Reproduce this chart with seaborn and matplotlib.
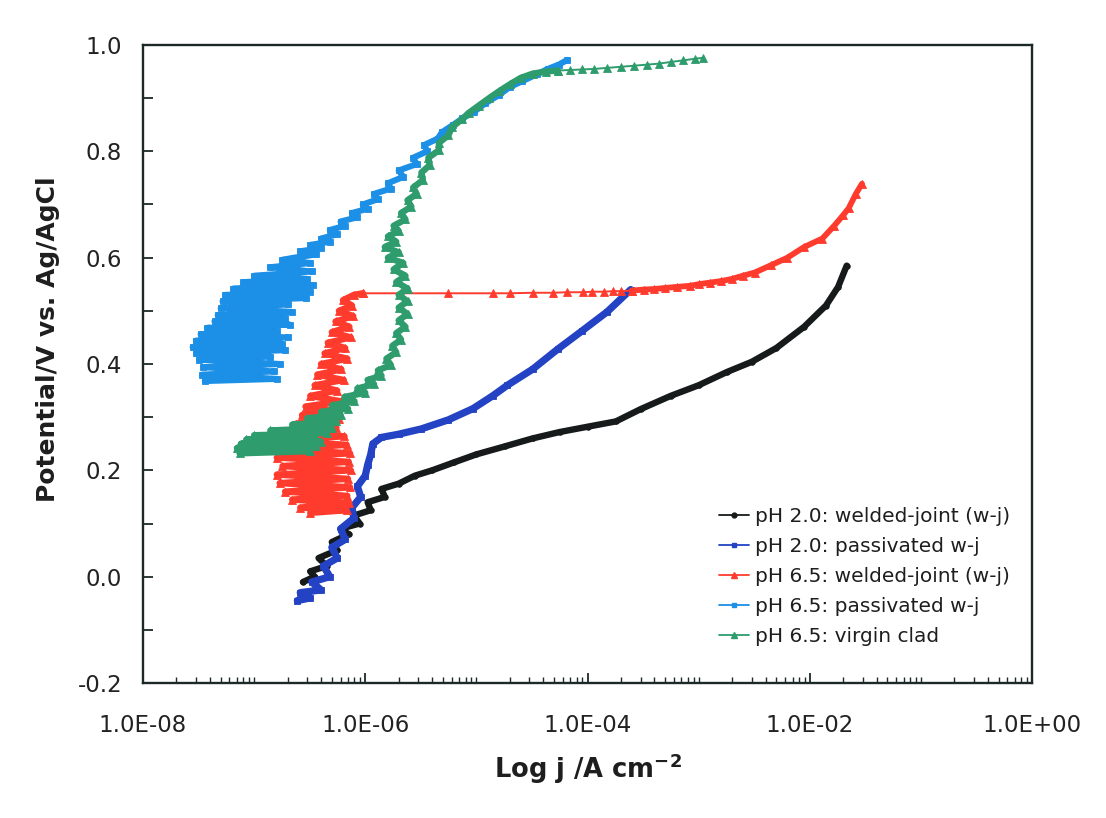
import numpy as np
import pandas as pd
import matplotlib
matplotlib.use("Agg")
import matplotlib.pyplot as plt
from matplotlib.lines import Line2D
from matplotlib.ticker import FixedLocator, LogLocator, NullFormatter
import seaborn as sns

# ---------------- data ----------------
series_labels = ["pH 2.0: welded-joint (w-j)", "pH 2.0: passivated w-j",
                 "pH 6.5: welded-joint (w-j)", "pH 6.5: passivated w-j",
                 "pH 6.5: virgin clad"]

# pH 2.0 welded joint (black)
bk_j = [2.75e-7, 3.5e-7, 3.2e-7, 4.5e-7, 3.8e-7, 5.6e-7, 5.0e-7, 7.1e-7, 6.0e-7, 8.9e-7,
        7.9e-7, 1.12e-6, 1.05e-6, 1.5e-6, 1.4e-6, 2.0e-6, 2.8e-6, 4.0e-6, 6.3e-6, 1.0e-5,
        1.8e-5, 3.2e-5, 5.6e-5, 1.0e-4, 1.8e-4, 3.0e-4, 5.6e-4, 1.0e-3, 1.8e-3, 3.0e-3,
        5.0e-3, 8.9e-3, 1.4e-2, 1.8e-2, 2.15e-2]
bk_E = [-0.010, 0.000, 0.010, 0.020, 0.035, 0.050, 0.065, 0.080, 0.090, 0.100,
        0.115, 0.125, 0.140, 0.150, 0.165, 0.175, 0.190, 0.200, 0.215, 0.230,
        0.245, 0.260, 0.272, 0.282, 0.292, 0.315, 0.340, 0.360, 0.385, 0.404,
        0.430, 0.470, 0.510, 0.545, 0.585]

# pH 2.0 passivated w-j (blue)
bl_j = [2.45e-7, 3.2e-7, 2.6e-7, 4.0e-7, 3.3e-7, 4.8e-7, 4.2e-7, 5.6e-7, 5.0e-7, 6.6e-7,
        6.0e-7, 7.9e-7, 7.6e-7, 9.1e-7, 8.5e-7, 1.0e-6, 1.05e-6, 1.12e-6, 1.17e-6, 1.4e-6,
        2.0e-6, 3.2e-6, 5.6e-6, 9.3e-6, 1.4e-5, 1.9e-5, 3.2e-5, 5.4e-5, 8.9e-5, 1.5e-4,
        2.45e-4]
bl_E = [-0.045, -0.040, -0.030, -0.025, -0.010, 0.000, 0.020, 0.035, 0.055, 0.070,
        0.090, 0.110, 0.130, 0.150, 0.170, 0.190, 0.210, 0.230, 0.250, 0.262,
        0.268, 0.278, 0.295, 0.316, 0.340, 0.360, 0.390, 0.428, 0.462, 0.498,
        0.540]

# pH 6.5 welded joint (red)
rd_j = [3.2e-7, 6.8e-7, 2.6e-7, 7.2e-7, 2.2e-7, 6.9e-7, 1.9e-7, 7.3e-7, 1.7e-7, 7.0e-7,
        1.6e-7, 7.4e-7, 1.8e-7, 7.1e-7, 1.6e-7, 7.3e-7, 1.9e-7, 6.8e-7, 1.55e-7, 6.5e-7,
        2.0e-7, 5.5e-7, 2.4e-7, 5.8e-7, 2.7e-7, 5.2e-7, 2.9e-7, 6.0e-7, 3.2e-7, 5.6e-7,
        3.5e-7, 6.4e-7, 3.7e-7, 6.1e-7, 4.0e-7, 6.9e-7, 4.3e-7, 6.6e-7, 4.6e-7, 7.4e-7,
        5.0e-7, 7.2e-7, 5.4e-7, 7.8e-7, 5.8e-7, 7.6e-7, 6.3e-7, 7.9e-7,
        9.5e-7, 5.5e-6, 1.4e-5, 2.0e-5, 3.2e-5, 4.9e-5, 6.6e-5, 9.1e-5, 1.1e-4, 1.4e-4,
        1.7e-4, 2.0e-4, 2.5e-4, 3.2e-4, 4.0e-4, 5.0e-4, 6.4e-4, 8.3e-4, 1.0e-3, 1.26e-3,
        1.6e-3, 2.0e-3, 2.5e-3, 3.2e-3, 4.5e-3, 6.3e-3, 8.9e-3, 1.3e-2, 1.66e-2, 2.0e-2,
        2.24e-2, 2.6e-2, 2.95e-2]
rd_E = [0.120, 0.125, 0.130, 0.138, 0.145, 0.152, 0.160, 0.168, 0.176, 0.184,
        0.192, 0.200, 0.208, 0.216, 0.224, 0.232, 0.240, 0.248, 0.256, 0.264,
        0.272, 0.280, 0.288, 0.296, 0.304, 0.312, 0.320, 0.330, 0.340, 0.350,
        0.360, 0.370, 0.380, 0.390, 0.400, 0.410, 0.420, 0.430, 0.440, 0.450,
        0.460, 0.470, 0.480, 0.490, 0.500, 0.510, 0.520, 0.530,
        0.533, 0.533, 0.533, 0.533, 0.534, 0.534, 0.535, 0.535, 0.536, 0.536,
        0.537, 0.537, 0.538, 0.540, 0.541, 0.543, 0.545, 0.547, 0.550, 0.553,
        0.556, 0.560, 0.566, 0.572, 0.586, 0.600, 0.620, 0.636, 0.660, 0.680,
        0.693, 0.720, 0.739]

# pH 6.5 passivated w-j (light blue)
lb_j = [3.6e-8, 1.6e-7, 3.4e-8, 1.5e-7, 3.5e-8, 1.7e-7, 3.2e-8, 1.4e-7, 3.0e-8, 1.9e-7,
        2.8e-8, 1.8e-7, 3.0e-8, 2.0e-7, 3.3e-8, 1.6e-7, 3.8e-8, 2.1e-7, 4.4e-8, 1.9e-7,
        4.7e-8, 2.2e-7, 5.0e-8, 2.0e-7, 5.2e-8, 2.9e-7, 5.5e-8, 3.2e-7, 6.5e-8, 3.4e-7,
        8.0e-8, 3.0e-7, 1.0e-7, 3.3e-7, 1.4e-7, 3.2e-7, 1.8e-7,
        2.3e-7, 3.6e-7, 2.6e-7, 4.0e-7, 3.2e-7, 4.8e-7, 4.0e-7, 5.6e-7, 4.8e-7, 6.6e-7,
        6.0e-7, 8.5e-7, 7.6e-7, 1.05e-6, 9.5e-7, 1.3e-6, 1.2e-6, 1.7e-6, 1.6e-6, 2.2e-6,
        2.0e-6, 2.9e-6, 2.7e-6, 3.6e-6, 3.4e-6, 4.5e-6, 4.9e-6, 6.2e-6, 7.5e-6, 9.5e-6,
        1.2e-5, 1.6e-5, 2.0e-5, 2.6e-5, 3.5e-5, 4.4e-5, 5.5e-5, 6.6e-5]
lb_E = [0.368, 0.372, 0.380, 0.386, 0.394, 0.400, 0.408, 0.414, 0.420, 0.426,
        0.432, 0.438, 0.444, 0.450, 0.456, 0.462, 0.468, 0.474, 0.480, 0.486,
        0.492, 0.498, 0.505, 0.512, 0.518, 0.524, 0.530, 0.536, 0.542, 0.548,
        0.554, 0.560, 0.566, 0.574, 0.582, 0.590, 0.596,
        0.600, 0.606, 0.612, 0.618, 0.624, 0.630, 0.636, 0.644, 0.652, 0.660,
        0.668, 0.676, 0.684, 0.692, 0.700, 0.710, 0.720, 0.730, 0.740, 0.752,
        0.764, 0.776, 0.788, 0.800, 0.812, 0.824, 0.836, 0.850, 0.862, 0.874,
        0.890, 0.906, 0.921, 0.932, 0.945, 0.955, 0.963, 0.972]

# pH 6.5 virgin clad (green)
gr_j = [7.4e-8, 3.2e-7, 7.0e-8, 3.6e-7, 7.6e-8, 4.0e-7, 8.5e-8, 3.5e-7, 1.0e-7, 4.5e-7,
        1.4e-7, 5.0e-7, 2.2e-7, 5.5e-7, 3.0e-7, 6.0e-7, 4.0e-7, 7.0e-7, 5.0e-7, 8.0e-7,
        6.5e-7, 1.0e-6, 8.5e-7, 1.2e-6, 1.05e-6, 1.4e-6, 1.3e-6, 1.7e-6, 1.55e-6, 1.9e-6,
        1.75e-6, 2.1e-6, 1.9e-6, 2.3e-6, 2.0e-6, 2.4e-6, 2.0e-6, 2.4e-6, 2.0e-6, 2.4e-6,
        1.9e-6, 2.3e-6, 1.8e-6, 2.2e-6, 1.6e-6, 2.0e-6, 1.5e-6, 1.9e-6, 1.6e-6, 2.0e-6,
        1.8e-6, 2.3e-6, 2.1e-6, 2.6e-6, 2.4e-6, 2.9e-6, 2.7e-6, 3.3e-6, 3.2e-6, 3.8e-6,
        3.7e-6, 4.6e-6, 4.6e-6, 5.6e-6, 6.0e-6, 7.4e-6, 8.5e-6, 1.05e-5, 1.3e-5, 1.6e-5,
        2.0e-5, 2.5e-5, 3.2e-5, 4.2e-5, 5.4e-5, 7.0e-5, 9.0e-5, 1.15e-4, 1.5e-4, 2.0e-4,
        2.6e-4, 3.4e-4, 4.4e-4, 5.6e-4, 7.2e-4, 9.2e-4, 1.1e-3]
gr_E = [0.232, 0.236, 0.242, 0.246, 0.250, 0.254, 0.258, 0.262, 0.266, 0.270,
        0.275, 0.280, 0.286, 0.292, 0.298, 0.304, 0.310, 0.316, 0.322, 0.330,
        0.338, 0.346, 0.354, 0.362, 0.370, 0.378, 0.388, 0.398, 0.410, 0.422,
        0.434, 0.446, 0.458, 0.470, 0.482, 0.494, 0.506, 0.518, 0.530, 0.542,
        0.554, 0.566, 0.578, 0.590, 0.600, 0.610, 0.620, 0.630, 0.640, 0.650,
        0.660, 0.672, 0.684, 0.696, 0.708, 0.720, 0.732, 0.746, 0.760, 0.774,
        0.788, 0.802, 0.816, 0.830, 0.845, 0.860, 0.872, 0.886, 0.900, 0.913,
        0.926, 0.938, 0.946, 0.950, 0.952, 0.953, 0.954, 0.955, 0.957, 0.959,
        0.961, 0.963, 0.965, 0.968, 0.971, 0.974, 0.976]

x_tick_values = [1e-8, 1e-6, 1e-4, 1e-2, 1e0]
x_tick_labels = ["1.0E-08", "1.0E-06", "1.0E-04", "1.0E-02", "1.0E+00"]
y_tick_values = [-0.2, 0.0, 0.2, 0.4, 0.6, 0.8, 1.0]
y_tick_labels = ["-0.2", "0.0", "0.2", "0.4", "0.6", "0.8", "1.0"]

# ---------------- styling ----------------
sns.set_style("white")
plt.rcParams["font.family"] = ["DejaVu Sans"]
plt.rcParams["mathtext.fontset"] = "dejavusans"

colors = ["#161a1a", "#2342c4", "#ff3b2e", "#1c8fe6", "#2e9c6c"]
markers = ["o", "s", "^", "s", "^"]
msizes = [4.0, 4.5, 5.5, 4.5, 5.5]
# line-weight segments per series: (start index, end index, line width)
segments = [
    [(0, None, 4.6)],
    [(0, None, 5.2)],
    [(0, 49, 4.6), (48, 61, 1.4), (60, None, 4.2)],
    [(0, None, 4.4)],
    [(0, 75, 4.6), (74, None, 1.4)],
]

frames = []
for lab, jj, ee in zip(series_labels,
                       [bk_j, bl_j, rd_j, lb_j, gr_j],
                       [bk_E, bl_E, rd_E, lb_E, gr_E]):
    frames.append(pd.DataFrame({"j": jj, "E": ee, "series": lab}))
df = pd.concat(frames, ignore_index=True)

fig = plt.figure(figsize=(11.06, 8.18), dpi=100)
fig.patch.set_facecolor("white")
ax = fig.add_axes([143 / 1106, (818 - 683) / 818, 889 / 1106, 638 / 818])

for i, lab in enumerate(series_labels):
    sub = df[df["series"] == lab].reset_index(drop=True)
    for (a, b, lw) in segments[i]:
        part = sub.iloc[a:b]
        sns.lineplot(data=part, x="j", y="E", sort=False, estimator=None, ax=ax,
                     color=colors[i], lw=lw, marker=markers[i], markersize=msizes[i],
                     markeredgewidth=0.6, markeredgecolor=colors[i], legend=False)

ax.set_xscale("log")
ax.set_xlim(1e-8, 1.0)
ax.set_ylim(-0.2, 1.0)

ax.xaxis.set_major_locator(FixedLocator(x_tick_values))
ax.set_xticklabels(x_tick_labels)
ax.xaxis.set_minor_locator(LogLocator(base=10, subs=np.arange(1, 10), numticks=100))
ax.xaxis.set_minor_formatter(NullFormatter())
ax.set_yticks(y_tick_values)
ax.set_yticklabels(y_tick_labels)
ax.set_yticks(np.arange(-0.1, 1.0, 0.2), minor=True)

spine_c = "#1d2929"
for s in ax.spines.values():
    s.set_color(spine_c)
    s.set_linewidth(1.7)
    s.set_visible(True)

ax.tick_params(axis="x", which="major", direction="in", length=7, width=1.3,
               color=spine_c, labelsize=16.5, pad=22, labelcolor="#222222",
               top=False, bottom=True)
ax.tick_params(axis="x", which="minor", direction="in", length=4.5, width=1.0,
               color=spine_c, top=False, bottom=True)
ax.tick_params(axis="y", which="major", direction="in", length=7, width=1.3,
               color=spine_c, labelsize=16.5, pad=15, labelcolor="#222222",
               left=True, right=False)
ax.tick_params(axis="y", which="minor", direction="in", length=7, width=1.3,
               color=spine_c, left=True, right=False)

ax.set_xlabel(r"Log j /A cm$^{\mathbf{-2}}$", fontsize=18.5, fontweight="bold",
              color="#1e1e1e")
ax.set_ylabel("Potential/V vs. Ag/AgCl", fontsize=18, fontweight="bold",
              color="#1e1e1e")
ax.xaxis.set_label_coords(0.5, -0.108)
ax.yaxis.set_label_coords(-0.093, 0.539)

handles = [Line2D([0], [0], color=colors[i], lw=1.3, marker=markers[i],
                  markersize=3.5 if markers[i] != "^" else 4.5)
           for i in range(len(series_labels))]
leg = ax.legend(handles, series_labels, loc="upper left",
                bbox_to_anchor=(0.648, 0.276), frameon=False, fontsize=14.5,
                handlelength=1.5, handletextpad=0.3, labelspacing=0.55,
                borderaxespad=0, borderpad=0)
for t in leg.get_texts():
    t.set_color("#1e1e1e")

ax.set_facecolor("white")
fig.savefig("out.png", dpi=100, facecolor="white")
